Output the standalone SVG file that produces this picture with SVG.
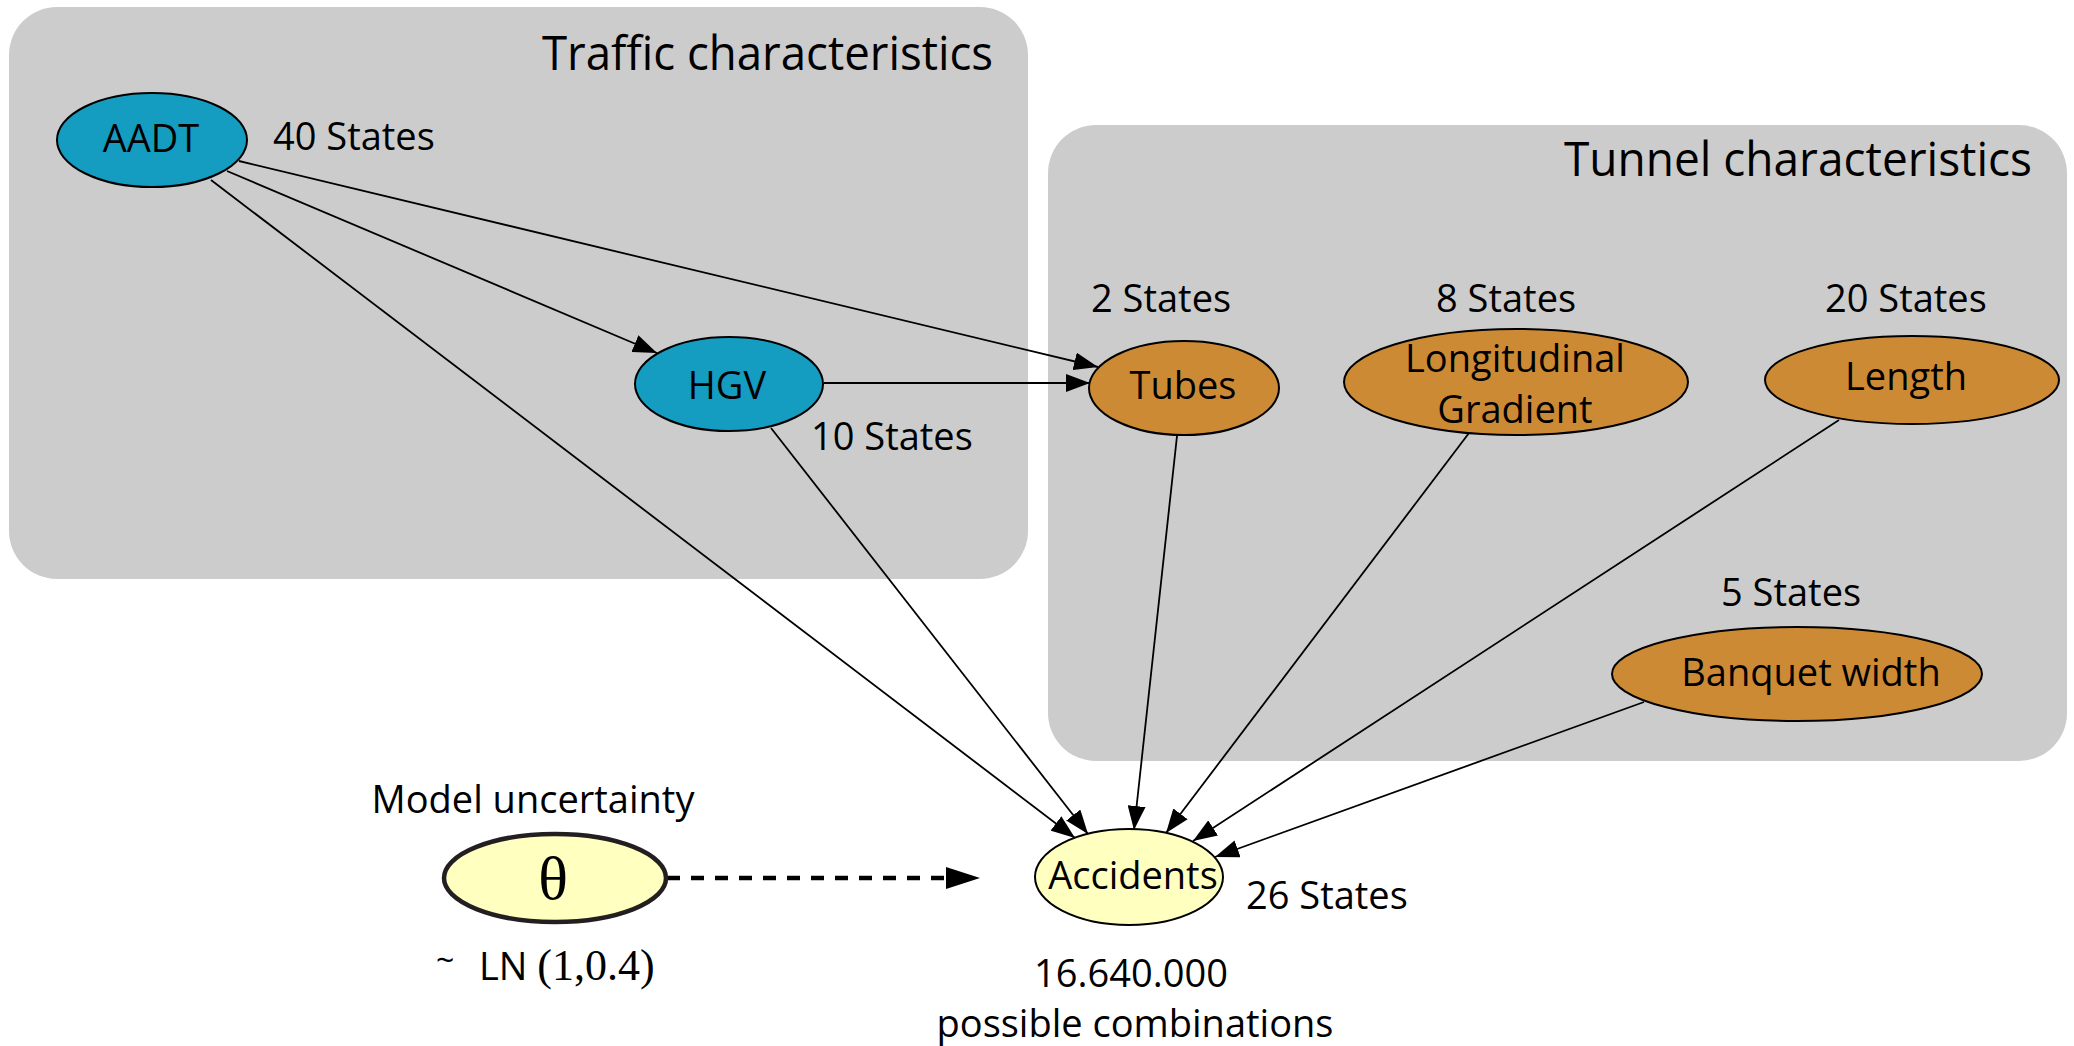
<svg xmlns="http://www.w3.org/2000/svg" width="2074" height="1046" viewBox="0 0 2074 1046">
  <style>
    .t { font-family: "Open Sans", "Liberation Sans", sans-serif; font-size: 38px; fill: #000; }
    .title { font-family: "Open Sans", "Liberation Sans", sans-serif; font-size: 48px; fill: #000; }
    .c { text-anchor: middle; }
    .serif { font-family: "Liberation Serif", "DejaVu Serif", serif; }
    .box { fill: #cccccc; }
    .blue { fill: #149cc1; stroke: #000; stroke-width: 2; }
    .orange { fill: #cd8a35; stroke: #000; stroke-width: 2; }
    .yellow { fill: #ffffc0; stroke: #000; stroke-width: 2; }
    .edge { stroke: #000; stroke-width: 1.8; fill: none; marker-end: url(#arr); }
  </style>
  <defs>
    <marker id="arr" viewBox="0 0 24 18" refX="24" refY="9" markerWidth="24" markerHeight="18" markerUnits="userSpaceOnUse" orient="auto">
      <path d="M0,0 L24,9 L0,18 Z" fill="#000"/>
    </marker>
    <marker id="arrd" viewBox="0 0 34 22" refX="0" refY="11" markerWidth="34" markerHeight="22" markerUnits="userSpaceOnUse" orient="auto">
      <path d="M0,0 L34,11 L0,22 Z" fill="#000"/>
    </marker>
  </defs>

  <g id="group-traffic">
    <rect class="box" x="9" y="7" width="1019" height="572" rx="48" ry="48"/>
    <text class="title" x="542" y="70" textLength="451" lengthAdjust="spacingAndGlyphs">Traffic characteristics</text>
  </g>
  <g id="group-tunnel">
    <rect class="box" x="1048" y="125" width="1019" height="636" rx="48" ry="48"/>
    <text class="title" x="1564" y="176" textLength="468" lengthAdjust="spacingAndGlyphs">Tunnel characteristics</text>
  </g>

  <g id="connectors">
    <line class="edge" x1="227" y1="171" x2="657" y2="353"/>
    <line class="edge" x1="239" y1="161" x2="1098" y2="367"/>
    <line class="edge" x1="211" y1="180" x2="1075" y2="838"/>
    <line class="edge" x1="824" y1="383" x2="1090" y2="383"/>
    <line class="edge" x1="771" y1="428" x2="1088" y2="834"/>
    <line class="edge" x1="1177" y1="436" x2="1134" y2="830"/>
    <line class="edge" x1="1469" y1="433" x2="1166" y2="833"/>
    <line class="edge" x1="1839" y1="420" x2="1193" y2="841"/>
    <line class="edge" x1="1644" y1="702" x2="1215" y2="857"/>
    <line x1="667" y1="878" x2="946" y2="878" stroke="#000" stroke-width="4.5" stroke-dasharray="13 11" marker-end="url(#arrd)"/>
  </g>

  <g id="node-aadt">
    <ellipse class="blue" cx="152" cy="140" rx="95" ry="47"/>
    <text class="t c" x="151" y="152">AADT</text>
    <text class="t" x="273" y="150">40 States</text>
  </g>
  <g id="node-hgv">
    <ellipse class="blue" cx="729" cy="384" rx="94" ry="47"/>
    <text class="t c" x="727" y="399">HGV</text>
    <text class="t" x="811" y="450">10 States</text>
  </g>
  <g id="node-tubes">
    <ellipse class="orange" cx="1184" cy="388" rx="95" ry="47"/>
    <text class="t c" x="1183" y="399">Tubes</text>
    <text class="t" x="1091" y="312">2 States</text>
  </g>
  <g id="node-gradient">
    <ellipse class="orange" cx="1516" cy="382" rx="172" ry="53"/>
    <text class="t c" x="1515" y="372">Longitudinal</text>
    <text class="t c" x="1515" y="423">Gradient</text>
    <text class="t" x="1436" y="312">8 States</text>
  </g>
  <g id="node-length">
    <ellipse class="orange" cx="1912" cy="380" rx="147" ry="44"/>
    <text class="t c" x="1906" y="390">Length</text>
    <text class="t" x="1825" y="312">20 States</text>
  </g>
  <g id="node-banquet">
    <ellipse class="orange" cx="1797" cy="674" rx="185" ry="47"/>
    <text class="t c" x="1811" y="686">Banquet width</text>
    <text class="t" x="1721" y="606">5 States</text>
  </g>
  <g id="node-accidents">
    <ellipse class="yellow" cx="1129" cy="877" rx="94" ry="48"/>
    <text class="t c" x="1133" y="889">Accidents</text>
    <text class="t" x="1246" y="909">26 States</text>
    <text class="t c" x="1131" y="987">16.640.000</text>
    <text class="t c" x="1135" y="1037">possible combinations</text>
  </g>
  <g id="node-theta">
    <ellipse cx="555" cy="878" rx="111" ry="44" fill="#ffffc0" stroke="#231f20" stroke-width="4.5"/>
    <text class="serif c" x="553" y="899" font-size="62">θ</text>
    <text class="t c" x="533" y="813">Model uncertainty</text>
    <text class="t" x="436" y="980"><tspan font-size="32" dy="-8">~</tspan><tspan x="479" dy="8">LN </tspan><tspan class="serif" font-size="44">(1,0.4)</tspan></text>
  </g>
</svg>
